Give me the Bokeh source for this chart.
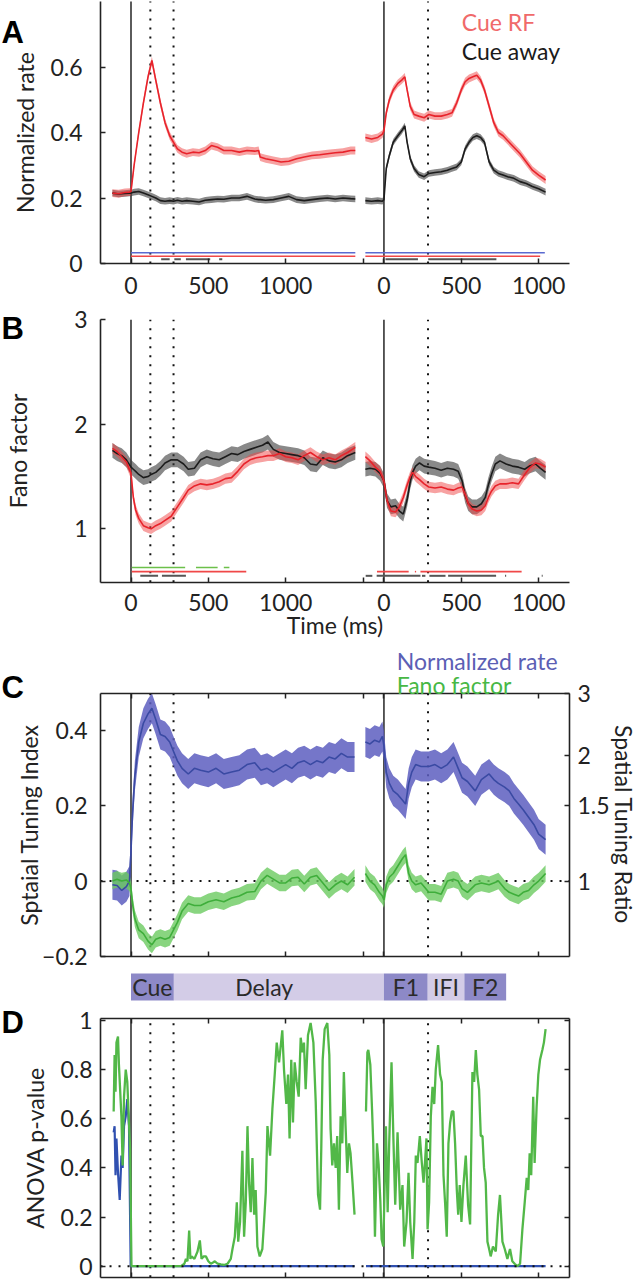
import numpy as np
from bokeh.plotting import figure
from bokeh.layouts import column
from bokeh.models import Range1d, Label, FixedTicker, LinearAxis
from bokeh.embed import file_html
from bokeh.resources import INLINE

FONT = "Lato"
OFFSET = 1635  # where F1-aligned time 0 sits on the shared time axis (ms)

# ---------------- Panel A : normalized rate ----------------
a_t_cue = [-120, -80, -40, -10, 0, 20, 50, 80, 110, 135, 160, 190, 220, 250, 275, 300, 330, 360, 400,
           440, 480, 520, 560, 600, 650, 700, 750, 800, 825, 835, 870, 920, 970, 1020, 1070, 1120,
           1170, 1220, 1270, 1320, 1370, 1420, 1450]
a_rf_cue = [0.215, 0.213, 0.217, 0.218, 0.22, 0.30, 0.40, 0.49, 0.57, 0.62, 0.56, 0.49, 0.43, 0.39,
            0.37, 0.35, 0.34, 0.335, 0.34, 0.338, 0.345, 0.36, 0.355, 0.345, 0.345, 0.34, 0.345,
            0.343, 0.345, 0.325, 0.32, 0.315, 0.31, 0.312, 0.32, 0.325, 0.33, 0.332, 0.335, 0.338,
            0.34, 0.345, 0.345]
a_away_cue = [0.215, 0.212, 0.214, 0.215, 0.215, 0.218, 0.22, 0.215, 0.21, 0.205, 0.2, 0.192, 0.19,
              0.192, 0.19, 0.193, 0.19, 0.192, 0.19, 0.188, 0.193, 0.195, 0.197, 0.196, 0.2, 0.2,
              0.205, 0.197, 0.195, 0.195, 0.193, 0.195, 0.2, 0.205, 0.195, 0.192, 0.195, 0.198, 0.2,
              0.197, 0.2, 0.198, 0.197]
a_t_f1 = [-120, -80, -40, -10, 0, 15, 35, 60, 90, 115, 135, 150, 170, 195, 225, 260, 290, 330, 370,
          410, 440, 470, 500, 525, 550, 575, 600, 625, 650, 680, 710, 740, 770, 800, 840, 880, 920,
          960, 1000, 1045]
a_rf_f1 = [0.385, 0.38, 0.385, 0.395, 0.405, 0.46, 0.50, 0.53, 0.55, 0.56, 0.57, 0.53, 0.48, 0.455,
           0.45, 0.445, 0.455, 0.45, 0.45, 0.455, 0.46, 0.49, 0.53, 0.555, 0.565, 0.57, 0.575, 0.56,
           0.53, 0.48, 0.43, 0.40, 0.39, 0.375, 0.355, 0.335, 0.31, 0.285, 0.27, 0.255]
a_away_f1 = [0.192, 0.19, 0.192, 0.19, 0.195, 0.29, 0.33, 0.37, 0.39, 0.405, 0.42, 0.37, 0.32, 0.29,
             0.272, 0.265, 0.275, 0.278, 0.28, 0.285, 0.29, 0.295, 0.31, 0.35, 0.37, 0.385, 0.39,
             0.385, 0.37, 0.31, 0.285, 0.275, 0.27, 0.265, 0.26, 0.25, 0.244, 0.235, 0.228, 0.218]
a_sem_rf = 0.012
a_sem_away = 0.010
# significance bars (start ms, end ms, alignment 0=cue 1=F1)
a_sig_diff_start = [0, -120]
a_sig_diff_end = [1450, 1040]
a_sig_diff_seg = [0, 1]
a_sig_rf_start = [0, -120]
a_sig_rf_end = [1450, 1010]
a_sig_rf_seg = [0, 1]
a_sig_away_start = [195, 280, 355, 570, 10, 286]
a_sig_away_end = [250, 322, 512, 590, 220, 727]
a_sig_away_seg = [0, 0, 0, 0, 1, 1]

# ---------------- Panel B : Fano factor ----------------
b_t_cue = [-120, -90, -60, -30, 0, 15, 30, 50, 80, 110, 130, 160, 190, 220, 260, 300, 340, 370, 410,
           450, 490, 530, 570, 610, 650, 690, 730, 770, 810, 850, 885, 920, 960, 1000, 1040, 1080,
           1120, 1160, 1200, 1240, 1280, 1320, 1360, 1400, 1450]
b_rf_cue = [1.77, 1.74, 1.69, 1.64, 1.53, 1.30, 1.18, 1.10, 1.03, 1.01, 1.00, 1.03, 1.05, 1.08, 1.12,
            1.21, 1.30, 1.37, 1.41, 1.43, 1.42, 1.43, 1.45, 1.48, 1.49, 1.55, 1.62, 1.66, 1.68, 1.69,
            1.70, 1.70, 1.72, 1.69, 1.68, 1.66, 1.70, 1.73, 1.69, 1.66, 1.68, 1.66, 1.70, 1.73, 1.78]
b_away_cue = [1.75, 1.72, 1.70, 1.66, 1.59, 1.57, 1.55, 1.52, 1.49, 1.50, 1.52, 1.54, 1.58, 1.63,
              1.66, 1.66, 1.62, 1.57, 1.58, 1.66, 1.69, 1.67, 1.66, 1.69, 1.72, 1.71, 1.74, 1.76,
              1.78, 1.80, 1.83, 1.76, 1.73, 1.72, 1.71, 1.70, 1.68, 1.62, 1.61, 1.68, 1.65, 1.64,
              1.66, 1.70, 1.73]
b_t_f1 = [-120, -90, -55, -25, 0, 20, 45, 75, 100, 125, 150, 170, 185, 205, 230, 260, 290, 330, 370,
          410, 450, 480, 505, 525, 545, 570, 600, 630, 655, 675, 695, 720, 750, 790, 830, 870, 910,
          940, 980, 1010, 1045]
b_rf_f1 = [1.69, 1.65, 1.59, 1.55, 1.46, 1.27, 1.17, 1.16, 1.21, 1.30, 1.42, 1.50, 1.54, 1.50, 1.47,
           1.43, 1.40, 1.39, 1.40, 1.38, 1.37, 1.39, 1.40, 1.33, 1.24, 1.19, 1.17, 1.18, 1.22, 1.30,
           1.36, 1.41, 1.43, 1.43, 1.44, 1.43, 1.52, 1.58, 1.63, 1.62, 1.59]
b_away_f1 = [1.57, 1.58, 1.57, 1.53, 1.46, 1.27, 1.21, 1.22, 1.17, 1.14, 1.28, 1.45, 1.54, 1.60, 1.63,
             1.60, 1.59, 1.58, 1.56, 1.58, 1.57, 1.55, 1.46, 1.32, 1.24, 1.21, 1.21, 1.24, 1.30,
             1.42, 1.52, 1.62, 1.65, 1.62, 1.60, 1.59, 1.57, 1.60, 1.62, 1.58, 1.54]
b_sem_rf = 0.05
b_sem_away = 0.07
b_sig_diff_start = [5, 420, 600]
b_sig_diff_end = [350, 560, 636]
b_sig_diff_seg = [0, 0, 0]
b_sig_rf_start = [5, -45, 200, 236]
b_sig_rf_end = [745, 160, 208, 890]
b_sig_rf_seg = [0, 1, 1, 1]
b_sig_away_start = [60, 200, -118, -47, 246, 294, 415, 783, 1020]
b_sig_away_end = [175, 355, -75, 236, 268, 398, 725, 790, 1026]
b_sig_away_seg = [0, 0, 1, 1, 1, 1, 1, 1, 1]

# ---------------- Panel C : spatial tuning index ----------------
c_t_cue = [-120, -90, -60, -30, -10, 0, 10, 25, 50, 80, 110, 135, 160, 190, 220, 250, 275, 300, 330,
           370, 410, 450, 500, 550, 600, 650, 700, 750, 800, 840, 880, 920, 960, 1000, 1040, 1080,
           1120, 1160, 1200, 1240, 1280, 1320, 1360, 1400, 1445]
c_rate_cue = [-0.01, -0.012, -0.025, -0.015, 0.0, 0.08, 0.18, 0.28, 0.37, 0.42, 0.445, 0.46, 0.43,
              0.39, 0.385, 0.37, 0.345, 0.32, 0.30, 0.285, 0.30, 0.295, 0.29, 0.30, 0.285, 0.29,
              0.295, 0.31, 0.315, 0.295, 0.30, 0.29, 0.30, 0.31, 0.30, 0.315, 0.32, 0.31, 0.32,
              0.315, 0.33, 0.325, 0.34, 0.33, 0.33]
c_fano_cue = [0.0, 0.005, 0.0, 0.003, -0.005, -0.02, -0.06, -0.10, -0.13, -0.14, -0.16, -0.17,
              -0.155, -0.15, -0.155, -0.15, -0.13, -0.11, -0.08, -0.06, -0.065, -0.065, -0.055,
              -0.05, -0.055, -0.045, -0.04, -0.03, -0.028, 0.0, 0.015, 0.005, -0.005, -0.005, 0.008,
              0.01, -0.008, 0.01, 0.015, -0.005, -0.025, -0.01, 0.0, -0.01, 0.01]
c_t_f1 = [-120, -90, -60, -30, -10, 0, 15, 35, 60, 90, 120, 140, 160, 180, 205, 240, 290, 330, 370,
          410, 450, 480, 505, 540, 590, 630, 680, 710, 740, 780, 810, 840, 870, 900, 935, 970, 1000,
          1045]
c_rate_f1 = [0.37, 0.365, 0.375, 0.37, 0.385, 0.36, 0.29, 0.26, 0.24, 0.23, 0.215, 0.205, 0.26, 0.29,
             0.31, 0.305, 0.305, 0.31, 0.30, 0.31, 0.33, 0.30, 0.275, 0.265, 0.24, 0.27, 0.285, 0.27,
             0.26, 0.25, 0.24, 0.22, 0.205, 0.19, 0.17, 0.15, 0.125, 0.11]
c_fano_f1 = [0.02, 0.0, -0.01, -0.03, -0.04, -0.05, -0.01, 0.01, 0.02, 0.04, 0.06, 0.07, 0.02, 0.0,
             -0.01, -0.005, -0.03, -0.03, -0.035, 0.0, 0.005, 0.0, -0.02, -0.03, -0.01, -0.005,
             -0.01, -0.005, 0.0, -0.02, -0.03, -0.035, -0.04, -0.03, -0.025, -0.01, 0.0, 0.02]
c_sem_rate = 0.04
c_sem_fano = 0.022
ratio_ticks = [1, 1.5, 2, 3]

# ---------------- Task epochs ----------------
epoch_names = ["Cue", "Delay", "F1", "IFI", "F2"]
epoch_on_ms = [0, 277, 0, 283, 520]
epoch_on_seg = [0, 0, 1, 1, 1]
epoch_off_ms = [277, 0, 283, 520, 790]
epoch_off_seg = [0, 1, 1, 1, 1]
epoch_strong = [True, False, True, False, True]

# ---------------- Panel D : ANOVA p-values ----------------
d_t_fano_cue = [-112, -106, -100, -94, -84, -78, -62, -54, -45, -34, -24, -13, -6, 3, 323, 345, 355,
                365, 376, 384, 391, 410, 430, 445, 456, 470, 484, 500, 516, 530, 542, 560, 581, 600,
                624, 645, 656, 671, 684, 693, 705, 720, 731, 742, 753, 763, 774, 785, 796, 806, 817,
                832, 849, 860, 871, 882, 899, 914, 929, 942, 957, 978, 989, 1004, 1015, 1025, 1036,
                1047, 1058, 1071, 1084, 1097, 1108, 1118, 1129, 1144, 1161, 1179, 1194, 1209, 1222,
                1230, 1239, 1252, 1269, 1282, 1290, 1301, 1312, 1323, 1333, 1344, 1355, 1366, 1376,
                1387, 1398, 1409, 1419, 1432, 1445]
d_p_fano_cue = [0.63, 0.86, 0.71, 0.91, 0.935, 0.82, 0.61, 0.41, 0.69, 0.80, 0.75, 0.585, 0.48, 0.0,
                0.0, 0.01, 0.03, 0.02, 0.145, 0.03, 0.04, 0.03, 0.06, 0.105, 0.03, 0.04, 0.04, 0.02,
                0.01, 0.015, 0.02, 0.01, 0.007, 0.005, 0.01, 0.03, 0.07, 0.12, 0.26, 0.10, 0.18, 0.47,
                0.12, 0.26, 0.57, 0.34, 0.22, 0.44, 0.21, 0.31, 0.08, 0.04, 0.07, 0.18, 0.30, 0.57,
                0.45, 0.64, 0.78, 0.91, 0.83, 0.96, 0.80, 0.66, 0.78, 0.52, 0.84, 0.585, 0.83, 0.75,
                0.69, 0.93, 0.87, 0.91, 0.72, 0.94, 0.99, 0.91, 0.67, 0.29, 0.23, 0.48, 0.84, 0.965,
                0.99, 0.86, 0.56, 0.41, 0.50, 0.40, 0.53, 0.23, 0.61, 0.50, 0.79, 0.57, 0.38, 0.50,
                0.46, 0.34, 0.21]
d_t_rate_cue = [-112, -106, -100, -94, -84, -73, -62, -54, -45, -34, -24, -13, -2, 1445]
d_p_rate_cue = [0.545, 0.57, 0.37, 0.52, 0.38, 0.27, 0.45, 0.40, 0.57, 0.61, 0.68, 0.57, 0.0, 0.0]
d_t_fano_f1 = [-116, -107, -101, -88, -77, -69, -58, -45, -34, -23, -15, -4, 13, 24, 34, 49, 62, 73,
               88, 105, 120, 131, 146, 159, 170, 185, 196, 206, 217, 232, 245, 256, 267, 275, 282,
               292, 303, 314, 325, 335, 350, 363, 374, 385, 396, 406, 417, 428, 439, 449, 460, 471,
               480, 490, 501, 514, 529, 544, 557, 572, 583, 594, 604, 615, 626, 637, 647, 658, 669,
               680, 690, 705, 723, 738, 750, 766, 781, 798, 815, 830, 845, 862, 880, 895, 910, 923,
               933, 942, 952, 965, 974, 987, 998, 1009, 1024, 1034, 1045]
d_p_fano_f1 = [0.63, 0.87, 0.88, 0.82, 0.64, 0.50, 0.12, 0.50, 0.41, 0.26, 0.11, 0.08, 0.57, 0.22,
               0.50, 0.83, 0.50, 0.25, 0.545, 0.23, 0.33, 0.08, 0.18, 0.38, 0.18, 0.03, 0.18, 0.45,
               0.42, 0.53, 0.42, 0.34, 0.44, 0.52, 0.15, 0.26, 0.61, 0.73, 0.66, 0.80, 0.90, 0.78,
               0.75, 0.37, 0.25, 0.12, 0.50, 0.585, 0.63, 0.63, 0.50, 0.31, 0.21, 0.33, 0.18, 0.33,
               0.45, 0.25, 0.17, 0.79, 0.75, 0.88, 0.78, 0.72, 0.53, 0.53, 0.40, 0.34, 0.10, 0.07,
               0.04, 0.08, 0.06, 0.21, 0.29, 0.10, 0.07, 0.03, 0.07, 0.02, 0.01, 0.0, 0.01, 0.15,
               0.26, 0.36, 0.31, 0.46, 0.37, 0.69, 0.42, 0.65, 0.78, 0.84, 0.88, 0.91, 0.965]
d_t_rate_f1 = [-116, 1045]
d_p_rate_f1 = [0.0, 0.0]

# time-axis ticks and event markers
x_tick_ms = [0, 500, 1000, 1500, 0, 500, 1000]
x_tick_seg = [0, 0, 0, 0, 1, 1, 1]
x_tick_text = ["0", "500", "1000", "", "0", "500", "1000"]
onset_ms = [0, 0]
onset_seg = [0, 1]
marker_ms = [125, 275, 285]
marker_seg = [0, 0, 1]

# ---------------- geometry & style ----------------
PAGE_W = 638
PX_PER_MS = 0.1547          # horizontal scale of the time axis
ZERO_PX = 130.5             # page x of cue onset
X_AX = (-197, 2834)         # time-axis extent (shared axis, ms)
CANVAS_X = ((0 - ZERO_PX) / PX_PER_MS, (PAGE_W - ZERO_PX) / PX_PER_MS)
LETTER_X = (1 - ZERO_PX) / PX_PER_MS
INK = "#222222"
RED, RED_BAND = "#e8232b", "#ef4545"
BLK, BLK_BAND = "#1c1c1c", "#3a3a3a"
BLUE, BLUE_BAND = "#3a4aa3", "#5d5ec0"
GREEN, GREEN_BAND = "#3fae3b", "#6ccb60"


def on_axis(t, seg):
    return np.asarray(t, float) + np.asarray(seg, float) * OFFSET


X_TICKS = [int(m + s * OFFSET) for m, s in zip(x_tick_ms, x_tick_seg)]
X_LABELS = {int(m + s * OFFSET): txt for m, s, txt in zip(x_tick_ms, x_tick_seg, x_tick_text)}


def y_range_for(top_px, bottom_px, v_ref, ref_px, px_per_unit):
    return (v_ref - (bottom_px - ref_px) / px_per_unit, v_ref + (ref_px - top_px) / px_per_unit)


def make_fig(top_px, bottom_px, v_ref, ref_px, px_per_unit):
    p = figure(width=PAGE_W, height=int(round(bottom_px - top_px)),
               x_range=Range1d(*CANVAS_X),
               y_range=Range1d(*y_range_for(top_px, bottom_px, v_ref, ref_px, px_per_unit)),
               x_axis_location=None, y_axis_location=None, min_border=0,
               output_backend="svg", toolbar_location=None, tools="")
    p.grid.visible = False
    p.outline_line_color = None
    p.background_fill_color = "white"
    p.border_fill_color = "white"
    return p


def add_axis(p, side, loc, bounds, ticks, overrides=None, labels=True, standoff=6, label=None,
             label_standoff=5):
    ax = LinearAxis(fixed_location=loc, bounds=bounds, ticker=FixedTicker(ticks=ticks))
    ax.axis_line_color = INK
    ax.axis_line_width = 1.6
    ax.major_tick_line_color = INK
    ax.major_tick_line_width = 1.5
    ax.major_tick_in = 5
    ax.major_tick_out = 0
    ax.minor_tick_line_color = None
    ax.major_label_text_font = FONT
    ax.major_label_text_font_size = "23px"
    ax.major_label_text_color = INK if labels else None
    ax.major_label_standoff = standoff
    ax.axis_label_text_font = FONT
    ax.axis_label_text_font_size = "23px"
    ax.axis_label_text_font_style = "normal"
    ax.axis_label_text_color = INK
    ax.axis_label_standoff = label_standoff
    if overrides:
        ax.major_label_overrides = overrides
    if label:
        ax.axis_label = label
    p.add_layout(ax, side)
    return ax


def add_events(p, lo, hi):
    xs = on_axis(onset_ms, onset_seg)
    p.segment(x0=xs, y0=[lo] * len(xs), x1=xs, y1=[hi] * len(xs), line_color="#333333",
              line_width=1.6)
    xs = on_axis(marker_ms, marker_seg)
    p.segment(x0=xs, y0=[lo] * len(xs), x1=xs, y1=[hi] * len(xs), line_color="#111111",
              line_width=2, line_dash="2 7")


def zero_line(p):
    p.segment(x0=[X_AX[0]], y0=[0], x1=[X_AX[1]], y1=[0], line_color="#111111", line_width=2,
              line_dash="2 7")


def band(p, t, seg, y, sem, fill, alpha):
    y = np.asarray(y, float)
    p.varea(x=on_axis(t, np.full(len(t), seg)), y1=y - sem, y2=y + sem, fill_color=fill,
            fill_alpha=alpha)


def trace(p, t, seg, y, color, width=1.6):
    p.line(on_axis(t, np.full(len(t), seg)), y, line_color=color, line_width=width)


def sig(p, starts, ends, segs, level, color, width=1.6):
    p.segment(x0=on_axis(starts, segs), y0=[level] * len(starts), x1=on_axis(ends, segs),
              y1=[level] * len(starts), line_color=color, line_width=width)


def text(p, x, y, s, size="23px", color=INK, font=FONT, style="normal", align="left",
         baseline="alphabetic", angle=0.0):
    p.add_layout(Label(x=x, y=y, text=s, text_font=font, text_font_size=size, text_color=color,
                       text_font_style=style, text_align=align, text_baseline=baseline,
                       angle=angle))


def letter(p, y, s):
    text(p, LETTER_X, y, s, size="31px", font="Liberation Sans", style="bold", color="#000000")


# ---------------- A ----------------
A_LO, A_HI = 0, 0.8
pa = make_fig(0, 301, 0, 263, 327.5)
add_axis(pa, "below", A_LO, X_AX, X_TICKS, X_LABELS, standoff=13)
add_axis(pa, "left", X_AX[0], (A_LO, A_HI), [0, 0.2, 0.4, 0.6], {0: "0"}, standoff=18,
         label="Normalized rate", label_standoff=8)
add_events(pa, A_LO, A_HI)
for t, y, seg in [(a_t_cue, a_away_cue, 0), (a_t_f1, a_away_f1, 1)]:
    band(pa, t, seg, y, a_sem_away, BLK_BAND, 0.6)
for t, y, seg in [(a_t_cue, a_rf_cue, 0), (a_t_f1, a_rf_f1, 1)]:
    band(pa, t, seg, y, a_sem_rf, RED_BAND, 0.5)
for t, y, seg in [(a_t_cue, a_away_cue, 0), (a_t_f1, a_away_f1, 1)]:
    trace(pa, t, seg, y, BLK)
for t, y, seg in [(a_t_cue, a_rf_cue, 0), (a_t_f1, a_rf_f1, 1)]:
    trace(pa, t, seg, y, RED)
sig(pa, a_sig_diff_start, a_sig_diff_end, a_sig_diff_seg, 0.033, "#5a6ad0")
sig(pa, a_sig_rf_start, a_sig_rf_end, a_sig_rf_seg, 0.022, "#f04848")
sig(pa, a_sig_away_start, a_sig_away_end, a_sig_away_seg, 0.013, "#555555", 2)
text(pa, 2138, 0.737, "Cue RF", color="#f06a6a")
text(pa, 2138, 0.650, "Cue away", color="#1a1a1a")
letter(pa, 0.705, "A")

# ---------------- B ----------------
B_LO, B_HI = 0.489, 3.0
pb = make_fig(301, 642, 3.0, 319.3, 104.5)
add_axis(pb, "below", B_LO, X_AX, X_TICKS, X_LABELS, standoff=12, label="Time (ms)",
         label_standoff=-4)
add_axis(pb, "left", X_AX[0], (B_LO, B_HI), [1, 2, 3], standoff=13, label="Fano factor",
         label_standoff=39)
add_events(pb, B_LO, B_HI)
for t, y, seg in [(b_t_cue, b_away_cue, 0), (b_t_f1, b_away_f1, 1)]:
    band(pb, t, seg, y, b_sem_away, BLK_BAND, 0.6)
for t, y, seg in [(b_t_cue, b_rf_cue, 0), (b_t_f1, b_rf_f1, 1)]:
    band(pb, t, seg, y, b_sem_rf, RED_BAND, 0.5)
for t, y, seg in [(b_t_cue, b_away_cue, 0), (b_t_f1, b_away_f1, 1)]:
    trace(pb, t, seg, y, BLK)
for t, y, seg in [(b_t_cue, b_rf_cue, 0), (b_t_f1, b_rf_f1, 1)]:
    trace(pb, t, seg, y, RED)
sig(pb, b_sig_diff_start, b_sig_diff_end, b_sig_diff_seg, 0.63, "#6cc04a")
sig(pb, b_sig_rf_start, b_sig_rf_end, b_sig_rf_seg, 0.59, "#f04848")
sig(pb, b_sig_away_start, b_sig_away_end, b_sig_away_seg, 0.55, "#555555", 2)
letter(pb, 2.917, "B")

# ---------------- C ----------------
C_LO, C_HI = -0.2, 0.5
pc = make_fig(642, 972, 0.5, 692.7, 375.7)
add_axis(pc, "below", C_LO, X_AX, X_TICKS, labels=False)
add_axis(pc, "above", C_HI, X_AX, X_TICKS, labels=False)
add_axis(pc, "left", X_AX[0], (C_LO, C_HI), [-0.2, 0, 0.2, 0.4], {-0.2: "\u22120.2", 0: "0"},
         standoff=13, label="Sptaial Tuning Index", label_standoff=-4)
ratio_pos = [(r - 1.0) / (r + 1.0) for r in ratio_ticks]
add_axis(pc, "right", X_AX[1], (C_LO, C_HI), ratio_pos,
         {pos: ("%g" % r) for pos, r in zip(ratio_pos, ratio_ticks)}, standoff=8)
add_events(pc, C_LO, C_HI)
zero_line(pc)
for t, y, seg in [(c_t_cue, c_rate_cue, 0), (c_t_f1, c_rate_f1, 1)]:
    band(pc, t, seg, y, c_sem_rate, BLUE_BAND, 0.85)
for t, y, seg in [(c_t_cue, c_fano_cue, 0), (c_t_f1, c_fano_f1, 1)]:
    band(pc, t, seg, y, c_sem_fano, GREEN_BAND, 0.8)
for t, y, seg in [(c_t_cue, c_rate_cue, 0), (c_t_f1, c_rate_f1, 1)]:
    trace(pc, t, seg, y, BLUE)
for t, y, seg in [(c_t_cue, c_fano_cue, 0), (c_t_f1, c_fano_f1, 1)]:
    trace(pc, t, seg, y, GREEN)
text(pc, 1718, 0.585, "Normalized rate", color="#5c5fb5")
text(pc, 1718, 0.5205, "Fano factor", color="#47b845")
text(pc, (623 - ZERO_PX) / PX_PER_MS, 0.1505, "Spatial Tuning Ratio", align="center",
     angle=-np.pi / 2)
letter(pc, 0.515, "C")

# ---------------- D (with task-epoch bar) ----------------
D_LO, D_HI = -0.0448, 1.007
pd_ = make_fig(972, 1280, 0.0, 1265.7, 245.7)
y_ticks_d = [0, 0.2, 0.4, 0.6, 0.8, 1]
add_axis(pd_, "below", D_LO, X_AX, X_TICKS, labels=False)
add_axis(pd_, "above", D_HI, X_AX, X_TICKS, labels=False)
add_axis(pd_, "left", X_AX[0], (D_LO, D_HI), y_ticks_d, {0: "0", 1: "1"}, standoff=8,
         label="ANOVA p-value", label_standoff=8)
add_axis(pd_, "right", X_AX[1], (D_LO, D_HI), y_ticks_d, labels=False)
add_events(pd_, D_LO, D_HI)
trace(pd_, d_t_rate_cue, 0, d_p_rate_cue, "#3050b0", 2.2)
trace(pd_, d_t_rate_f1, 1, d_p_rate_f1, "#3050b0", 2.2)
trace(pd_, d_t_fano_cue, 0, d_p_fano_cue, "#52b848", 2.3)
trace(pd_, d_t_fano_f1, 1, d_p_fano_f1, "#52b848", 2.3)
zero_line(pd_)
EP_BOTTOM, EP_TOP = 1.0814, 1.1913
ep_left = on_axis(epoch_on_ms, epoch_on_seg)
ep_right = on_axis(epoch_off_ms, epoch_off_seg)
ep_color = ["#8d89c7" if s else "#d3cce7" for s in epoch_strong]
pd_.quad(left=ep_left, right=ep_right, bottom=EP_BOTTOM, top=EP_TOP, fill_color=ep_color,
         line_color=None)
ep_center = (ep_left + ep_right) / 2.0
ep_center[1] = (ep_left[1] + max(c_t_cue)) / 2.0
for cx, name in zip(ep_center, epoch_names):
    text(pd_, cx, (EP_BOTTOM + EP_TOP) / 2.0, name, color="#2a2a2a", align="center",
         baseline="middle")
letter(pd_, 0.992, "D")

layout = column(pa, pb, pc, pd_, spacing=0)
open("out.html", "w").write(file_html(layout, INLINE))
